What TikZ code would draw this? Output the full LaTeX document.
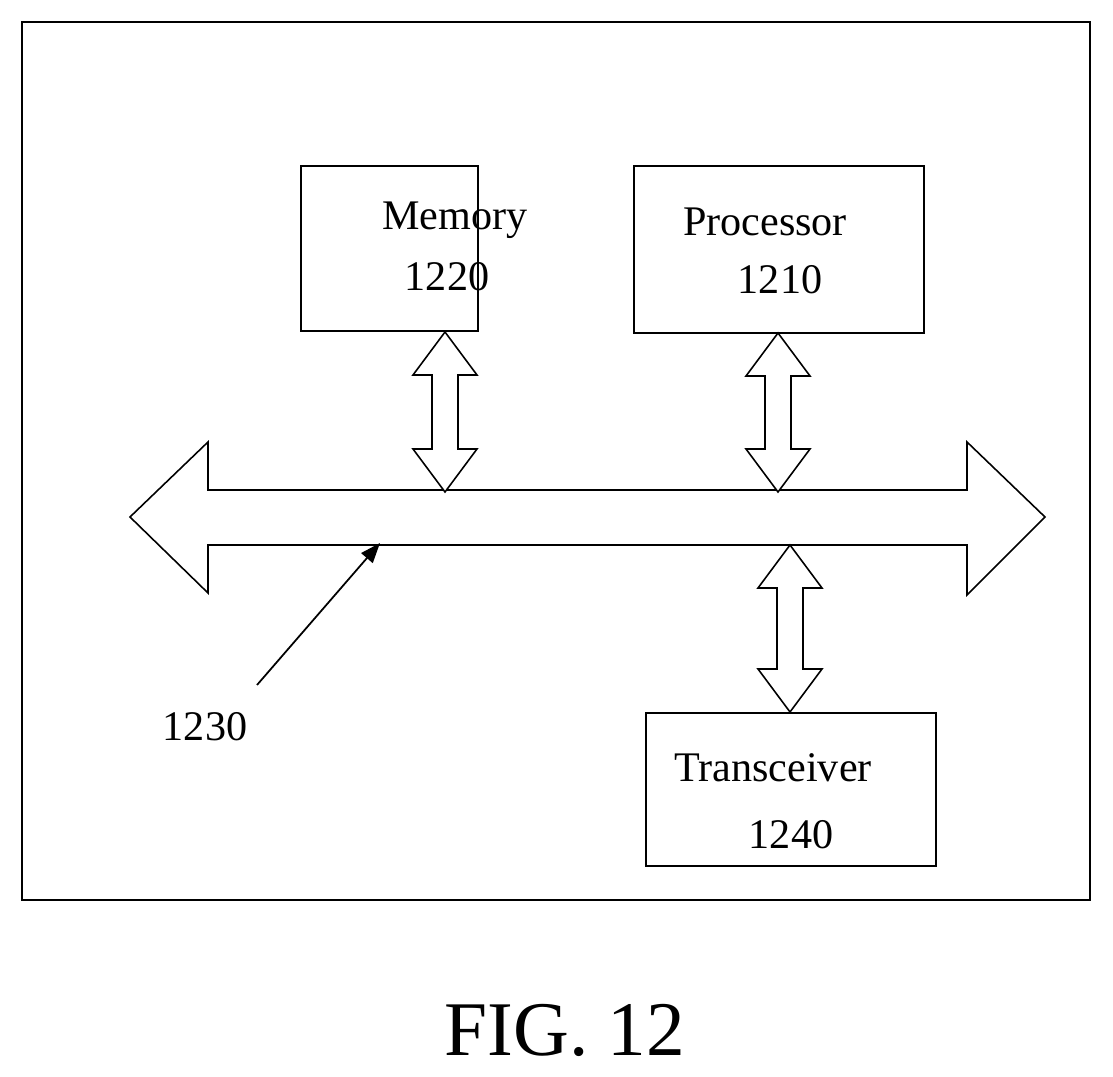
\documentclass[tikz,border=0pt]{standalone}
\usepackage{fontspec}
\setmainfont{Liberation Serif}
\usetikzlibrary{positioning, arrows.meta, calc}

% vertical hollow double arrow: x, top tip y, bottom tip y
\newcommand{\vdblarrow}[3]{%
  \draw[hollow] (#1,#2) -- (#1+32,#2+43) -- (#1+13,#2+43) -- (#1+13,#3-43)
    -- (#1+32,#3-43) -- (#1,#3) -- (#1-32,#3-43) -- (#1-13,#3-43)
    -- (#1-13,#2+43) -- (#1-32,#2+43) -- cycle;}

\begin{document}
\begin{tikzpicture}[x=0.02cm, y=-0.02cm,
    unit/.style={rectangle, draw=black, line width=0.9pt, anchor=north west, inner sep=0pt},
    lbl/.style={font=\fontsize{24}{26}\selectfont},
    hollow/.style={draw=black, line width=0.9pt, fill=white}
]
    \useasboundingbox (0,0) rectangle (1113,1077);

    % frame
    \draw[line width=0.9pt] (22,22) rectangle (1090,900);

    % units
    \node[unit, minimum width=177*0.02cm, minimum height=165*0.02cm] (mem) at (300,165) {};
    \node[lbl] (memtxt) at (455,220) {Memory};
    \node[lbl] (memnum) at (447,277) {1220};

    \node[unit, minimum width=290*0.02cm, minimum height=167*0.02cm] (proc) at (633,165) {};
    \node[lbl] (proctxt) at (765,222) {Processor};
    \node[lbl] (procnum) at (780,280) {1210};

    \node[unit, minimum width=290*0.02cm, minimum height=153*0.02cm] (trx) at (645,712) {};
    \node[lbl] (trxtxt) at (773,768) {Transceiver};
    \node[lbl] (trxnum) at (791,835) {1240};

    % bus
    \draw[hollow] (130,517) -- (208,442) -- (208,490) -- (967,490) -- (967,442)
      -- (1045,517) -- (967,595) -- (967,545) -- (208,545) -- (208,593) -- cycle;

    % links to bus
    \vdblarrow{445}{332}{492}
    \vdblarrow{778}{333}{492}
    \vdblarrow{790}{545}{712}

    % bus label
    \node[lbl] (buslbl) at (205,727) {1230};
    \coordinate (busptr) at (380,543);
    \draw[line width=1pt, -{Triangle[length=4mm, width=3mm]}] (257,685) -- (busptr);

    \node[font=\fontsize{44}{48}\selectfont] (fig) at (565,1030) {FIG. 12};
\end{tikzpicture}
\end{document}
